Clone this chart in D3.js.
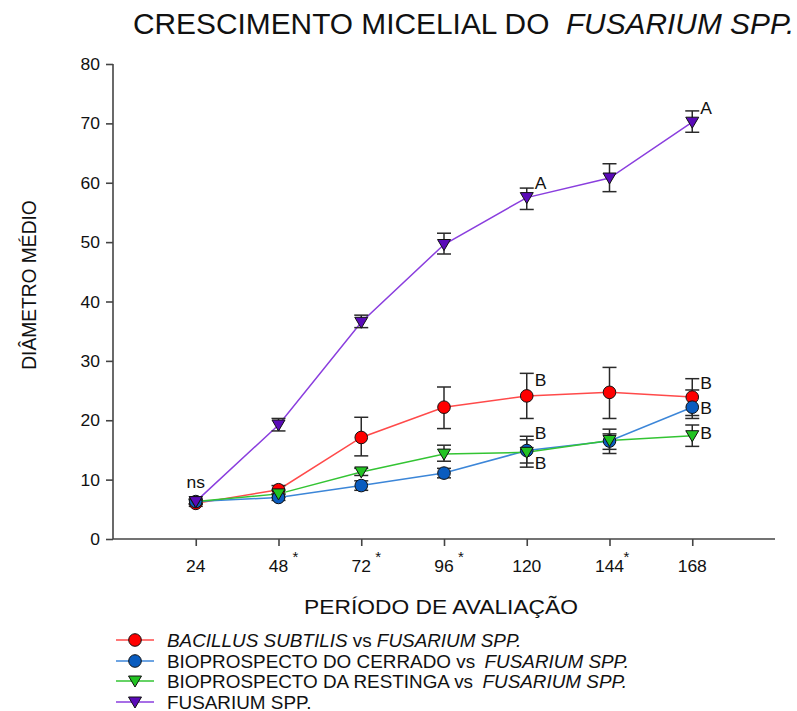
<!DOCTYPE html>
<html><head><meta charset="utf-8">
<script src="https://cdn.jsdelivr.net/npm/d3@7"></script>
<style>body{margin:0;background:#fff;} text{font-family:"Liberation Sans",Arial,sans-serif;fill:#111;}</style>
</head><body>
<svg id="c" width="797" height="711"></svg>
<script>
const hours = [24, 48, 72, 96, 120, 144, 168];
const xTickLabels = ["24", "48", "72", "96", "120", "144", "168"];
const xTickStars = [false, true, true, true, false, true, false];
const yTicks = [0, 10, 20, 30, 40, 50, 60, 70, 80];

const bacillus = [6.0, 8.3, 17.1, 22.2, 24.1, 24.7, 23.9];
const bacillusLo = [5.5, 7.6, 14.0, 18.6, 20.3, 20.3, 20.8];
const bacillusHi = [6.5, 9.0, 20.5, 25.6, 27.9, 28.9, 27.0];

const cerrado = [6.3, 7.0, 9.0, 11.1, 14.9, 16.5, 22.2];
const cerradoLo = [5.9, 6.5, 8.2, 10.3, 12.1, 14.4, 20.3];
const cerradoHi = [6.7, 7.5, 9.8, 11.9, 16.7, 17.7, 25.1];

const restinga = [6.3, 7.6, 11.3, 14.3, 14.6, 16.6, 17.4];
const restingaLo = [5.9, 7.0, 10.7, 13.1, 12.8, 15.1, 15.6];
const restingaHi = [6.7, 8.2, 11.9, 15.8, 17.3, 18.5, 19.2];

const fusarium = [6.3, 19.2, 36.5, 49.6, 57.5, 60.8, 70.2];
const fusariumLo = [5.9, 18.2, 35.6, 48.0, 55.5, 58.5, 68.5];
const fusariumHi = [6.7, 20.3, 37.7, 51.5, 59.1, 63.2, 72.1];

const seriesNames = ["BACILLUS SUBTILIS vs FUSARIUM SPP.", "BIOPROSPECTO DO CERRADO vs  FUSARIUM SPP.", "BIOPROSPECTO DA RESTINGA vs  FUSARIUM SPP.", "FUSARIUM SPP."];

// letter annotations
const letterSeries = [3, 3, 0, 2, 1, 0, 1, 2];
const letterHours = [120, 168, 120, 120, 120, 168, 168, 168];
const letterText = ["A", "A", "B", "B", "B", "B", "B", "B"];
const letterDy = [-9, -8, -10, -13, 18, -8, 7, 3];

const styles = [
  {line: "#ff4a4a", fill: "#ff0000", shape: "circle"},
  {line: "#3c86d8", fill: "#0a5cbf", shape: "circle"},
  {line: "#33c433", fill: "#22c322", shape: "tri"},
  {line: "#8a3ede", fill: "#5a0ab8", shape: "tri"}
];
const series = [
  {v: bacillus, lo: bacillusLo, hi: bacillusHi},
  {v: cerrado, lo: cerradoLo, hi: cerradoHi},
  {v: restinga, lo: restingaLo, hi: restingaHi},
  {v: fusarium, lo: fusariumLo, hi: fusariumHi}
];

const svg = d3.select("#c");
const x = d3.scaleLinear().domain([0, 192]).range([113, 775]);
const y = d3.scaleLinear().domain([0, 80]).range([539, 64]);

function stext(px, py, size, sx, anchor) {
  return svg.append("text").attr("transform", `translate(${px},${py}) scale(${sx},1)`)
    .attr("font-size", size).attr("text-anchor", anchor || "start");
}

// axes
const gx = svg.append("g").attr("transform", "translate(0,539)")
  .call(d3.axisBottom(x).tickValues(hours).tickSize(7).tickFormat(""));
const gy = svg.append("g").attr("transform", "translate(113,0)")
  .call(d3.axisLeft(y).tickValues(yTicks).tickSize(7).tickFormat(""));
[gx, gy].forEach(g => {
  g.select(".domain").attr("stroke", "#444").attr("stroke-width", 1.6);
  g.selectAll(".tick line").attr("stroke", "#444").attr("stroke-width", 1.6);
});
gx.select(".domain").attr("d", "M113,0H775");
gy.select(".domain").attr("d", "M0,64V539");

// tick labels
hours.forEach((h, i) => {
  stext(x(h), 572, 17, 1.03, "middle").text(xTickLabels[i]);
  if (xTickStars[i]) {
    svg.append("text").attr("x", x(h) + 14).attr("y", 562).attr("font-size", 15).text("*");
  }
});
yTicks.forEach(v => {
  stext(100, y(v) + 6, 17, 1.03, "end").text(v);
});

// lines
const line = d3.line().x((d, i) => x(hours[i])).y(d => y(d));
series.forEach((s, k) => {
  svg.append("path").attr("d", line(s.v)).attr("fill", "none")
    .attr("stroke", styles[k].line).attr("stroke-width", 1.5);
});

// error bars
series.forEach((s, k) => {
  const g = svg.append("g").attr("stroke", "#2a2a2a").attr("stroke-width", 1.5);
  hours.forEach((h, i) => {
    const cx = x(h), y1 = y(s.lo[i]), y2 = y(s.hi[i]);
    g.append("line").attr("x1", cx).attr("x2", cx).attr("y1", y1).attr("y2", y2);
    g.append("line").attr("x1", cx - 7).attr("x2", cx + 7).attr("y1", y1).attr("y2", y1);
    g.append("line").attr("x1", cx - 7).attr("x2", cx + 7).attr("y1", y2).attr("y2", y2);
  });
});

// markers
function marker(g, cx, cy, st) {
  if (st.shape === "circle") {
    g.append("circle").attr("cx", cx).attr("cy", cy).attr("r", 6.3)
      .attr("fill", st.fill).attr("stroke", "#111").attr("stroke-width", 1);
  } else {
    g.append("path").attr("d", `M${cx-6.5},${cy-5}L${cx+6.5},${cy-5}L${cx},${cy+6}Z`)
      .attr("fill", st.fill).attr("stroke", "#111").attr("stroke-width", 1);
  }
}
series.forEach((s, k) => {
  const g = svg.append("g");
  hours.forEach((h, i) => marker(g, x(h), y(s.v[i]), styles[k]));
});

// letters
letterText.forEach((t, j) => {
  const s = series[letterSeries[j]];
  const i = hours.indexOf(letterHours[j]);
  stext(x(letterHours[j]) + 8, y(s.v[i]) + letterDy[j], 17, 1.03).text(t);
});
stext(x(24), 488, 17, 1.03, "middle").text("ns");

// title
const title = stext(133, 34, 29, 1.03);
title.append("tspan").text("CRESCIMENTO MICELIAL DO ");
title.append("tspan").attr("font-style", "italic").attr("dx", 8).text("FUSARIUM SPP.");

// axis titles
stext(441, 614, 21, 1.085, "middle").text("PERÍODO DE AVALIAÇÃO");
svg.append("text").attr("transform", "translate(36,285) rotate(-90) scale(0.96,1.05)")
  .attr("text-anchor", "middle").attr("font-size", 20).text("DIÂMETRO MÉDIO");

// legend
const legY = [640, 661, 681, 702];
seriesNames.forEach((n, k) => {
  const g = svg.append("g");
  g.append("line").attr("x1", 116).attr("x2", 154).attr("y1", legY[k]).attr("y2", legY[k])
    .attr("stroke", styles[k].line).attr("stroke-width", 1.5);
  marker(g, 135, legY[k], styles[k]);
  const t = stext(167, legY[k] + 6.5, 18, 1.05);
  if (k === 0) {
    t.append("tspan").attr("font-style", "italic").text("BACILLUS SUBTILIS");
    t.append("tspan").text(" vs ");
    t.append("tspan").attr("font-style", "italic").text("FUSARIUM SPP.");
  } else if (k === 3) {
    t.text(n);
  } else {
    const parts = n.split("vs");
    t.append("tspan").text(parts[0] + "vs ");
    t.append("tspan").attr("font-style", "italic").attr("dx", 4).text("FUSARIUM SPP.");
  }
});
</script>
</body></html>
